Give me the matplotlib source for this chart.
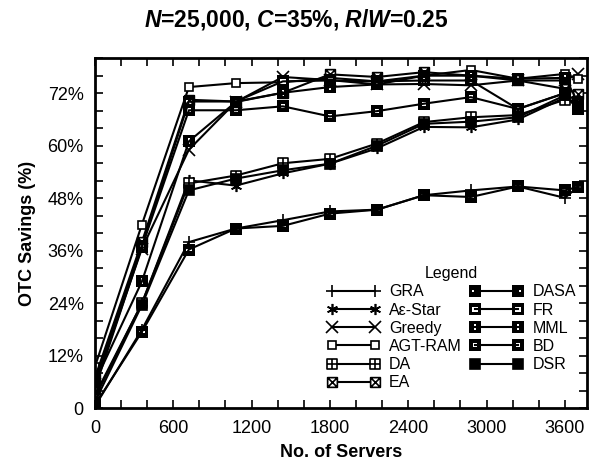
import matplotlib
matplotlib.use('Agg')
import matplotlib.pyplot as plt
from matplotlib.path import Path
from matplotlib.ticker import MultipleLocator, FuncFormatter

plt.rcParams['font.family'] = ['Liberation Sans', 'DejaVu Sans']
plt.rcParams['mathtext.fontset'] = 'custom'
plt.rcParams['mathtext.it'] = 'Liberation Sans:italic:bold'
plt.rcParams['mathtext.rm'] = 'Liberation Sans:bold'

# number of servers
servers = [0, 360, 720, 1080, 1440, 1800, 2160, 2520, 2880, 3240, 3600, 3700]

# OTC savings (%)
gra     = [0.5, 18.0, 38.0, 41.1, 43.0, 45.0, 45.4, 48.7, 49.8, 50.7, 48.1, 50.6]
ae_star = [3.0, 24.0, 52.1, 50.9, 53.7, 55.9, 59.4, 64.3, 64.2, 66.0, 71.0, 69.0]
greedy  = [5.5, 36.5, 59.1, 70.0, 75.7, 75.0, 74.0, 74.1, 73.8, 74.9, 74.9, 76.4]
agt_ram = [9.5, 42.0, 73.4, 74.3, 74.5, 75.5, 74.7, 76.0, 77.3, 75.3, 76.4, 75.3]
da      = [2.5, 24.0, 51.4, 53.2, 56.0, 57.0, 60.5, 65.4, 66.5, 67.0, 70.5, 70.0]
ea      = [7.0, 38.0, 70.5, 70.1, 72.1, 76.3, 75.7, 76.8, 76.0, 74.9, 73.0, 71.9]
dasa    = [0.8, 17.5, 36.3, 41.1, 41.7, 44.5, 45.4, 48.7, 48.3, 50.7, 49.8, 50.6]
fr      = [6.5, 37.0, 70.1, 70.1, 74.7, 74.9, 74.7, 74.9, 74.9, 68.4, 72.0, 68.4]
mml     = [6.0, 29.0, 61.0, 70.0, 72.1, 73.4, 74.0, 76.0, 76.0, 75.3, 75.5, 70.0]
bd      = [4.5, 36.9, 68.1, 68.1, 69.0, 66.7, 67.9, 69.6, 71.1, 68.4, 72.0, 70.0]
dsr     = [1.5, 23.6, 49.8, 52.5, 54.4, 55.9, 60.0, 65.0, 65.5, 66.5, 71.5, 68.5]


def box(w, h, reverse=False):
    pts = [(-w, -h), (w, -h), (w, h), (-w, h), (-w, -h)]
    if reverse:
        pts = pts[::-1]
    codes = [Path.MOVETO] + [Path.LINETO] * 3 + [Path.CLOSEPOLY]
    return Path(pts, codes)


def holed(w, h):
    return Path.make_compound_path(box(1, 1), box(w, h, reverse=True))


sq_plus = Path.make_compound_path(
    box(1, 1),
    Path([(-1, 0), (1, 0)], [Path.MOVETO, Path.LINETO]),
    Path([(0, -1), (0, 1)], [Path.MOVETO, Path.LINETO]))
sq_x = Path.make_compound_path(
    box(1, 1),
    Path([(-1, -1), (1, 1)], [Path.MOVETO, Path.LINETO]),
    Path([(-1, 1), (1, -1)], [Path.MOVETO, Path.LINETO]))

series = [
    ('GRA', gra, dict(marker='+', ms=9, mew=1.2)),
    ('A\u03b5-Star', ae_star, dict(marker=(6, 2, 0), ms=8, mew=1.2)),
    ('Greedy', greedy, dict(marker='x', ms=8, mew=1.2)),
    ('AGT-RAM', agt_ram, dict(marker='s', mfc='white', ms=6, mew=1.2)),
    ('DA', da, dict(marker=sq_plus, mfc='white', ms=7, mew=1.2)),
    ('EA', ea, dict(marker=sq_x, mfc='white', ms=7, mew=1.2)),
    ('DASA', dasa, dict(marker=holed(0.55, 0.2), mfc='black', ms=8, mew=0)),
    ('FR', fr, dict(marker=holed(0.5, 0.45), mfc='black', ms=8, mew=0)),
    ('MML', mml, dict(marker=holed(0.2, 0.5), mfc='black', ms=8, mew=0)),
    ('BD', bd, dict(marker=holed(0.4, 0.3), mfc='black', ms=8, mew=0)),
    ('DSR', dsr, dict(marker='s', mfc='black', ms=7, mew=1.2)),
]

fig = plt.figure(figsize=(5.93, 4.69), dpi=100)
ax = fig.add_axes([0.160, 0.129, 0.830, 0.747])

for name, vals, style in series:
    ax.plot(servers, vals, color='black', linewidth=1.5, mec='black',
            label=name, **style)

ax.set_xlim(0, 3770)
ax.set_ylim(0, 80)
ax.xaxis.set_major_locator(MultipleLocator(600))
ax.xaxis.set_minor_locator(MultipleLocator(200))
ax.yaxis.set_major_locator(MultipleLocator(12))
ax.yaxis.set_minor_locator(MultipleLocator(4))
ax.yaxis.set_major_formatter(FuncFormatter(lambda v, p: '0' if v == 0 else f'{v:.0f}%'))
ax.tick_params(which='both', direction='in', length=6, width=1.2,
               top=True, right=True, labelsize=13, pad=8)
for s in ax.spines.values():
    s.set_linewidth(2)

ax.set_xlabel('No. of Servers', fontsize=13, fontweight='bold', labelpad=5)
ax.set_ylabel('OTC Savings (%)', fontsize=13, fontweight='bold', labelpad=8)

fig.text(0.5, 0.958, r'$N$=25,000, $C$=35%, $R/W$=0.25', ha='center', va='center',
         fontsize=16.5, fontweight='bold')

leg = ax.legend(ncol=2, loc='lower right', bbox_to_anchor=(1.0, 0.02),
                frameon=False, title='Legend', fontsize=11.5, title_fontsize=11.5,
                numpoints=2, handlelength=3.3, handletextpad=0.6,
                labelspacing=0.2, columnspacing=0.5, borderpad=0.2)

fig.savefig('out.png', dpi=100)
